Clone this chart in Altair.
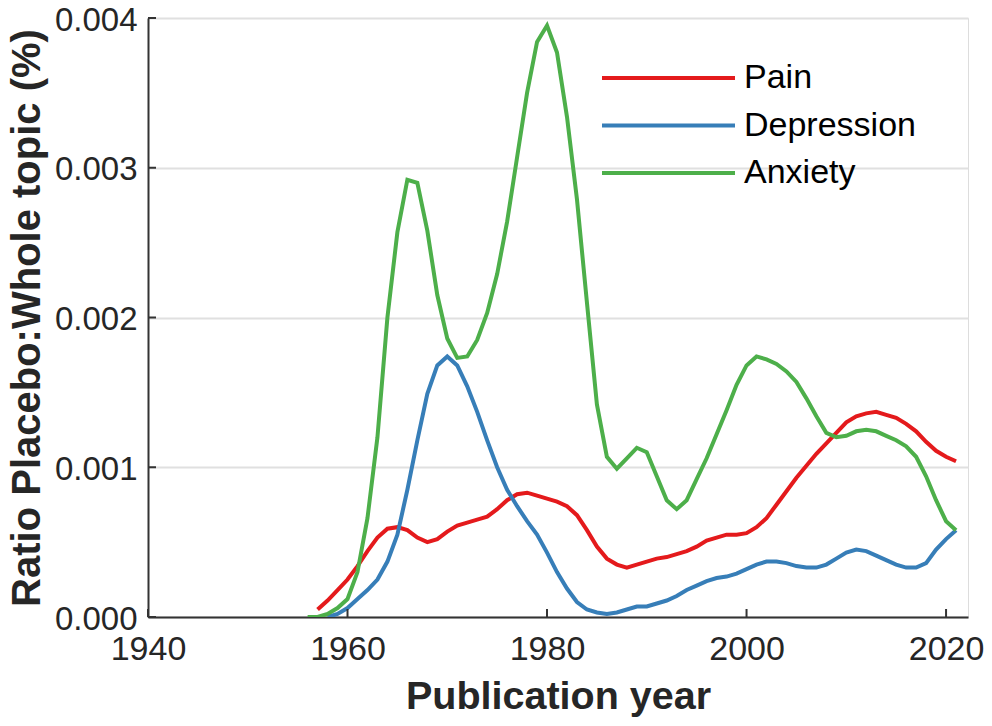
import altair as alt
import pandas as pd

pain_years = list(range(1957, 2022))
pain = [0.00005, 0.00011, 0.00018, 0.00025, 0.00034, 0.00044, 0.00053, 0.00059, 0.00060, 0.00058,
        0.00053, 0.00050, 0.00052, 0.00057, 0.00061, 0.00063, 0.00065, 0.00067, 0.00072, 0.00078,
        0.00082, 0.00083, 0.00081, 0.00079, 0.00077, 0.00074, 0.00068, 0.00058, 0.00047, 0.00039,
        0.00035, 0.00033, 0.00035, 0.00037, 0.00039, 0.00040, 0.00042, 0.00044, 0.00047, 0.00051,
        0.00053, 0.00055, 0.00055, 0.00056, 0.00060, 0.00066, 0.00075, 0.00084, 0.00093, 0.00101,
        0.00109, 0.00116, 0.00123, 0.00130, 0.00134, 0.00136, 0.00137, 0.00135, 0.00133, 0.00129,
        0.00124, 0.00117, 0.00111, 0.00107, 0.00104]

dep_years = list(range(1958, 2022))
depression = [0.00000, 0.00002, 0.00006, 0.00012, 0.00018, 0.00025, 0.00037, 0.00055, 0.00085, 0.00118,
              0.00149, 0.00168, 0.00174, 0.00168, 0.00154, 0.00137, 0.00118, 0.00100, 0.00085, 0.00074,
              0.00064, 0.00055, 0.00043, 0.00030, 0.00019, 0.00010, 0.00005, 0.00003, 0.00002, 0.00003,
              0.00005, 0.00007, 0.00007, 0.00009, 0.00011, 0.00014, 0.00018, 0.00021, 0.00024, 0.00026,
              0.00027, 0.00029, 0.00032, 0.00035, 0.00037, 0.00037, 0.00036, 0.00034, 0.00033, 0.00033,
              0.00035, 0.00039, 0.00043, 0.00045, 0.00044, 0.00041, 0.00038, 0.00035, 0.00033, 0.00033,
              0.00036, 0.00045, 0.00052, 0.00058]

anx_years = list(range(1956, 2022))
anxiety = [0.00000, 0.00000, 0.00002, 0.00006, 0.00012, 0.00030, 0.00066, 0.00120, 0.00200, 0.00257,
           0.00292, 0.00290, 0.00258, 0.00215, 0.00186, 0.00173, 0.00174, 0.00185, 0.00203, 0.00229,
           0.00264, 0.00307, 0.00350, 0.00384, 0.00395, 0.00377, 0.00334, 0.00279, 0.00210, 0.00142,
           0.00107, 0.00099, 0.00106, 0.00113, 0.00110, 0.00094, 0.00078, 0.00072, 0.00078, 0.00092,
           0.00106, 0.00122, 0.00138, 0.00155, 0.00168, 0.00174, 0.00172, 0.00169, 0.00164, 0.00157,
           0.00146, 0.00134, 0.00123, 0.00120, 0.00121, 0.00124, 0.00125, 0.00124, 0.00121, 0.00118,
           0.00114, 0.00107, 0.00094, 0.00078, 0.00064, 0.00058]

series_names = ["Pain", "Depression", "Anxiety"]
series_colors = ["#e41a1c", "#377eb8", "#4daf4a"]
x_ticks = [1940, 1960, 1980, 2000, 2020]
y_ticks = [0.000, 0.001, 0.002, 0.003, 0.004]

rows = []
for name, yrs, vals in [("Pain", pain_years, pain), ("Depression", dep_years, depression),
                        ("Anxiety", anx_years, anxiety)]:
    for yr, v in zip(yrs, vals):
        rows.append({"year": yr, "value": v, "series": name})
df = pd.DataFrame(rows)

FONT = "Liberation Sans"
TXT = "#262626"
H = 599

x_scale = alt.Scale(domain=[1940, 2022.2], nice=False, zero=False)
y_scale = alt.Scale(domain=[0, 0.004], nice=False)

lines = alt.Chart(df).mark_line(strokeWidth=4, strokeCap="butt", clip=True).encode(
    x=alt.X("year:Q", scale=x_scale,
            axis=alt.Axis(title="Publication year", values=x_ticks, format="d", grid=False,
                          ticks=False, labelFontSize=34, labelPadding=15, labelColor=TXT,
                          titleFontSize=39.5, titleFontWeight="bold", titleColor=TXT,
                          titlePadding=11, domainColor="#333333", domainWidth=2,
                          labelFlush=False)),
    y=alt.Y("value:Q", scale=y_scale,
            axis=alt.Axis(title="Ratio Placebo:Whole topic (%)", values=y_ticks, format=".3f",
                          grid=True, gridColor="#e0e0e0", gridWidth=2, ticks=False,
                          labelFontSize=33, labelPadding=11, labelColor=TXT, labelOffset=2,
                          titleFontSize=40, titleFontWeight="bold", titleColor=TXT,
                          titlePadding=7, domainColor="#333333", domainWidth=2,
                          labelFlush=False)),
    color=alt.Color("series:N", scale=alt.Scale(domain=series_names, range=series_colors),
                    sort=series_names,
                    legend=alt.Legend(title=None, orient="none", legendX=452, legendY=43,
                                      symbolType="stroke", symbolSize=17689, symbolStrokeWidth=4,
                                      clipHeight=34, labelFontSize=34, labelColor="#000000",
                                      labelOffset=7, labelLimit=400, rowPadding=13.5, padding=0)),
)

x_tick_df = pd.DataFrame({"t": x_ticks})
y_tick_df = pd.DataFrame({"t": y_ticks})

xt = alt.Chart(x_tick_df).mark_rule(color="#333333", strokeWidth=2).encode(
    x=alt.X("t:Q", scale=x_scale), y=alt.value(H), y2=alt.value(H - 8))
yt = alt.Chart(y_tick_df).mark_rule(color="#333333", strokeWidth=2).encode(
    y=alt.Y("t:Q", scale=y_scale), x=alt.value(0), x2=alt.value(8))

chart = alt.layer(lines, xt, yt).properties(
    width=820, height=H,
    autosize=alt.AutoSizeParams(type="none"),
    padding={"left": 140, "top": 10, "right": 16, "bottom": 100},
).configure_view(stroke=None).configure(font=FONT)

chart.save("out.html", embed_options={"renderer": "svg", "actions": False})
